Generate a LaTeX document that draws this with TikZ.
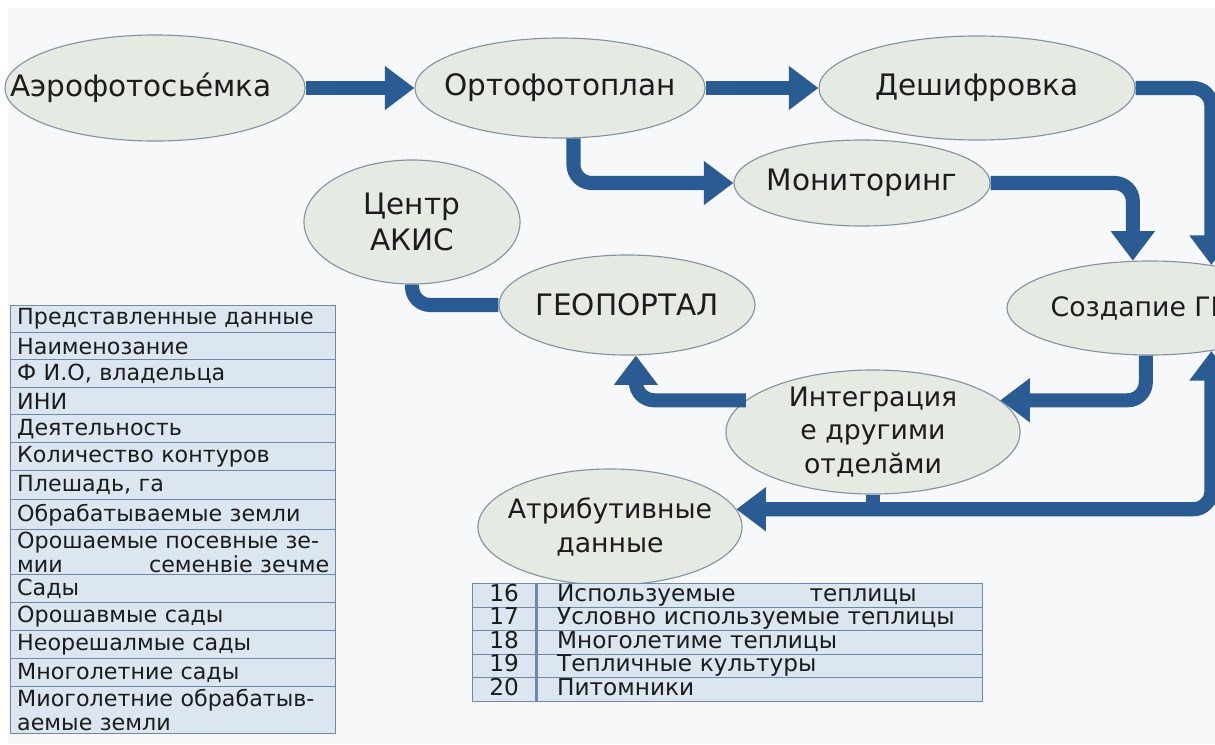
\documentclass[tikz,border=0pt]{standalone}
\usepackage{fontspec}
\setmainfont{DejaVu Sans}
\usetikzlibrary{shapes.geometric,arrows.meta,positioning}
\definecolor{ovalfill}{HTML}{E5EAE3}
\definecolor{ovaldraw}{HTML}{8493A2}
\definecolor{flowblue}{HTML}{2A5B93}
\definecolor{cellfill}{HTML}{DCE6F0}
\definecolor{celldraw}{HTML}{6F88A8}
\definecolor{pagebg}{HTML}{F7F8F9}
\definecolor{ink}{HTML}{1C1C1C}
\tikzset{
  oval/.style={ellipse,draw=ovaldraw,fill=ovalfill,line width=0.8pt,inner sep=0pt},
  ovaltext/.style={font=\fontsize{21}{25}\selectfont,text=ink,align=center},
  smalltext/.style={ovaltext,font=\fontsize{19}{24}\selectfont},
  flowline/.style={draw=flowblue,line width=10pt,rounded corners=13pt,
    >={Triangle[width=30pt,length=21pt]}},
  flow/.style={flowline,->},
  twoway/.style={flowline,<->},
  cellbox/.style={draw=celldraw,fill=cellfill,line width=1pt,anchor=north west,
    inner xsep=0.16cm,inner ysep=0pt,align=left,text=ink,
    font=\fontsize{15.8}{17}\selectfont},
}
\begin{document}
\begin{tikzpicture}[x=0.025cm,y=-0.025cm]
\path[use as bounding box] (0,0) rectangle (1215,744);
\clip (0,0) rectangle (1215,744);
\fill[white] (0,0) rectangle (1215,744);
\fill[pagebg] (8,8) rectangle (1215,744);

% ovals
\node[oval,minimum width=7.5cm,minimum height=2.65cm,label={[ovaltext,xshift=-0.35cm]center:Аэрофотосьéмка}] (aero) at (155,88) {};
\node[oval,minimum width=7.25cm,minimum height=2.5cm,label={[ovaltext]center:Ортофотоплан}] (orto) at (560,88) {};
\node[oval,minimum width=7.9cm,minimum height=2.6cm,label={[ovaltext]center:Дешифровка}] (deshif) at (977,88) {};
\node[oval,minimum width=6.4cm,minimum height=2.15cm,label={[ovaltext]center:Мониторинг}] (monit) at (862,183) {};
\node[oval,minimum width=5.4cm,minimum height=3.1cm,label={[ovaltext]center:Центр\\АКИС}] (centr) at (412,222) {};
\node[oval,minimum width=6.4cm,minimum height=2.5cm,label={[ovaltext]center:ГЕОПОРТАЛ}] (geo) at (627,305) {};
\node[oval,minimum width=7.15cm,minimum height=2.35cm,label={[smalltext]center:Создапие ГИС}] (sozd) at (1150,308) {};
\node[oval,minimum width=7.35cm,minimum height=3.1cm,label={[smalltext]center:Интеграция\\е другими\\отделӑми}] (integr) at (873,432) {};
\node[oval,minimum width=6.6cm,minimum height=2.9cm,label={[smalltext]center:Атрибутивные\\данные}] (atrib) at (610,527) {};

% arrows
\draw[flow] (aero) -- (orto);
\draw[flow] (orto) -- (deshif);
\draw[flow] (deshif.east) -| (sozd.35);
\draw[flow] (orto.-75) |- (monit.west);
\draw[flow] (monit.east) -| (sozd.110);
\draw[flowline] (centr.south) |- (geo.west);
\draw[flow] (sozd.-95) |- (integr.14);
\draw[flow] (integr.166) -| (geo.-80);
\draw[twoway] (sozd.-35) |- (atrib.8);
\draw[flowline] (integr.south) -- (integr.south |- atrib.8);

% left table
\foreach \y/\h/\t [count=\i] in {
  305/27/Представленные данные,
  332/27/Наименозание,
  359/28/{Ф И.О, владельца},
  387/27/ИНИ,
  414/28/Деятельность,
  442/28/Количество контуров,
  470/29/{Плешадь, га},
  499/30/Обрабатываемые земли,
  529/45/{Орошаемые посевные зе-\\мии\hfill семенвіе зечме},
  574/28/Сады,
  602/28/Орошавмые сады,
  630/28/Неорешалмые сады,
  658/28/Многолетние сады,
  686/47/{Миоголетние обрабатыв-\\аемые земли}}
  \node[cellbox,minimum width=8.125cm,text width=7.8cm,minimum height=\h*0.025cm] (row\i) at (10,\y) {\t};

% bottom table
\foreach \n/\t [count=\i] in {
  16/{Используемые\hspace{1.85cm}теплицы},
  17/Условно используемые теплицы,
  18/Многолетиме теплицы,
  19/Тепличные культуры,
  20/Питомники}{
  \node[cellbox,align=center,font=\fontsize{16.5}{18}\selectfont,inner xsep=0pt,text height=12pt,text depth=4pt,
    minimum width=1.575cm,minimum height=0.5875cm] (num\i) at (472,559.5+23.5*\i) {\n};
  \node[cellbox,right=0pt of num\i,font=\fontsize{16.5}{18}\selectfont,inner xsep=0.5cm,text height=12pt,text depth=4pt,
    minimum width=11.125cm,text width=10.125cm,minimum height=0.5875cm] (item\i) {\t};
}
\end{tikzpicture}
\end{document}
